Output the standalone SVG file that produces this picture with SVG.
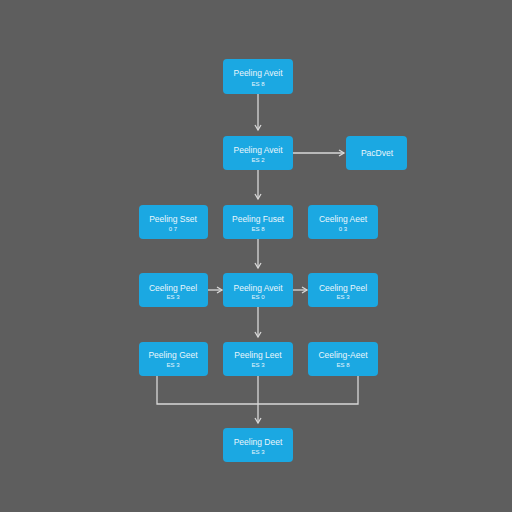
<svg xmlns="http://www.w3.org/2000/svg" width="512" height="512" viewBox="0 0 512 512">
<style>
.n{fill:#1ba8e2;}
.t{font-family:"Liberation Sans",Arial,sans-serif;font-size:8.5px;fill:#eaf6fc;text-anchor:middle;}
.s{font-family:"Liberation Sans",Arial,sans-serif;font-size:6px;fill:#eaf6fc;text-anchor:middle;}
.c{stroke:#d8d8d8;stroke-width:1.3;fill:none;}
</style>
<defs>
<marker id="ah" markerWidth="8" markerHeight="8" refX="6" refY="4" orient="auto" markerUnits="userSpaceOnUse">
<path d="M1,1 L6,4 L1,7" fill="none" stroke="#d8d8d8" stroke-width="1.3"/>
</marker>
</defs>
<rect width="512" height="512" fill="#5e5e5e"/>
<g id="connectors">
<path class="c" d="M258,94 V130" marker-end="url(#ah)"/>
<path class="c" d="M293,153 H344" marker-end="url(#ah)"/>
<path class="c" d="M258,170 V199" marker-end="url(#ah)"/>
<path class="c" d="M258,239 V268" marker-end="url(#ah)"/>
<path class="c" d="M208,290 H222" marker-end="url(#ah)"/>
<path class="c" d="M293,290 H307" marker-end="url(#ah)"/>
<path class="c" d="M258,307 V337" marker-end="url(#ah)"/>
<path class="c" d="M157,376 V404 H358 V376"/>
<path class="c" d="M258,376 V423" marker-end="url(#ah)"/>
</g>
<g id="n1"><rect class="n" x="223" y="59" width="70" height="35" rx="4"/><text class="t" x="258" y="76">Peeling Aveit</text><text class="s" x="258" y="86">ES 8</text></g>
<g id="n2"><rect class="n" x="223" y="136" width="70" height="34" rx="4"/><text class="t" x="258" y="153">Peeling Aveit</text><text class="s" x="258" y="162">ES 2</text></g>
<g id="n3"><rect class="n" x="346" y="136" width="61" height="34" rx="4"/><text class="t" x="377" y="156">PacDvet</text></g>
<g id="n4"><rect class="n" x="139" y="205" width="69" height="34" rx="4"/><text class="t" x="173" y="222">Peeling Sset</text><text class="s" x="173" y="231">0 7</text></g>
<g id="n5"><rect class="n" x="223" y="205" width="70" height="34" rx="4"/><text class="t" x="258" y="222">Peeling Fuset</text><text class="s" x="258" y="231">ES 8</text></g>
<g id="n6"><rect class="n" x="308" y="205" width="70" height="34" rx="4"/><text class="t" x="343" y="222">Ceeling Aeet</text><text class="s" x="343" y="231">0 3</text></g>
<g id="n7"><rect class="n" x="139" y="273" width="69" height="34" rx="4"/><text class="t" x="173" y="291">Ceeling Peel</text><text class="s" x="173" y="299">ES 3</text></g>
<g id="n8"><rect class="n" x="223" y="273" width="70" height="34" rx="4"/><text class="t" x="258" y="291">Peeling Aveit</text><text class="s" x="258" y="299">ES 0</text></g>
<g id="n9"><rect class="n" x="308" y="273" width="70" height="34" rx="4"/><text class="t" x="343" y="291">Ceeling Peel</text><text class="s" x="343" y="299">ES 3</text></g>
<g id="n10"><rect class="n" x="139" y="342" width="69" height="34" rx="4"/><text class="t" x="173" y="358">Peeling Geet</text><text class="s" x="173" y="367">ES 3</text></g>
<g id="n11"><rect class="n" x="223" y="342" width="70" height="34" rx="4"/><text class="t" x="258" y="358">Peeling Leet</text><text class="s" x="258" y="367">ES 3</text></g>
<g id="n12"><rect class="n" x="308" y="342" width="70" height="34" rx="4"/><text class="t" x="343" y="358">Ceeling-Aeet</text><text class="s" x="343" y="367">ES 8</text></g>
<g id="n13"><rect class="n" x="223" y="428" width="70" height="34" rx="4"/><text class="t" x="258" y="445">Peeling Deet</text><text class="s" x="258" y="454">ES 3</text></g>
</svg>
